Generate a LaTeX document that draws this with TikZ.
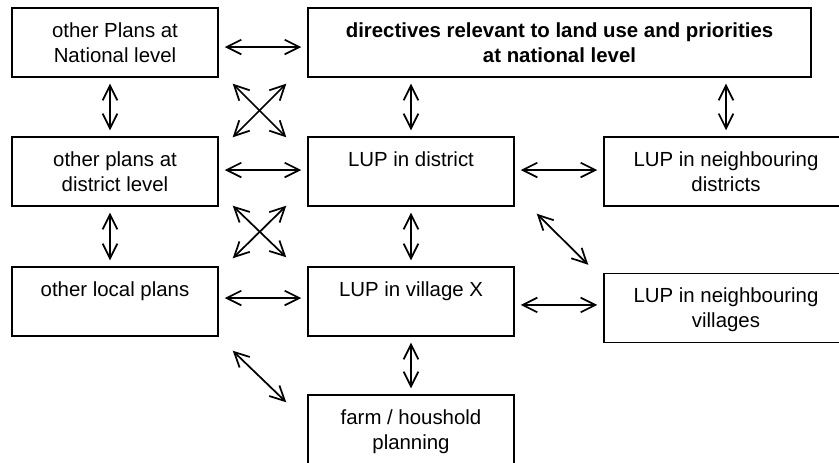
\documentclass[tikz,border=0pt]{standalone}
\usepackage{fontspec}
\setmainfont{Liberation Sans}
\usetikzlibrary{arrows.meta}

\tikzset{
    plan/.style={draw, line width=1.1pt, align=center, inner sep=0pt,
        text height=33pt, text depth=3.5pt,
        minimum height=51.75pt, font=\fontsize{15.3}{18.75}\selectfont},
    link/.style={{Straight Barb[length=11pt,width=11pt]}-{Straight Barb[length=11pt,width=11pt]},
        line width=1.3pt, shorten <=4.5pt, shorten >=4.5pt},
    cross/.style={{Straight Barb[length=11pt,width=11pt]}-{Straight Barb[length=11pt,width=11pt]},
        line width=1.3pt}
}

\begin{document}
\begin{tikzpicture}[x=0.75pt,y=-0.75pt]
                \path[use as bounding box, clip] (0,0) rectangle (839,463);

                \node[plan, minimum width=154.5pt] (nat) at (115,42.5) {other Plans at\\National level};
                \node[plan, minimum width=377.25pt, font=\fontsize{15.3}{18.75}\selectfont\bfseries] (dirs) at (559.5,42.5) {directives relevant to land use and priorities\\at national level};
                \node[plan, minimum width=154.5pt] (dist) at (115,171.5) {other plans at\\district level};
                \node[plan, minimum width=154.5pt] (lupd) at (411,171.5) {LUP in district\\~};
                \node[plan, minimum width=183pt] (nbd) at (726,171.5) {LUP in neighbouring\\districts};
                \node[plan, minimum width=154.5pt] (loc) at (115,301.5) {other local plans\\~};
                \node[plan, minimum width=154.5pt] (lupv) at (411,301.5) {LUP in village X\\~};
                \node[plan, minimum width=183pt] (nbv) at (726,308) {LUP in neighbouring\\villages};
                \node[plan, minimum width=154.5pt] (farm) at (411,429.5) {farm / houshold\\planning};

                \draw[link] ([yshift=-3.4pt]nat.east) to ([yshift=-3.4pt]dirs.west);
                \draw[link] ([yshift=1.1pt]dist.east) to ([yshift=1.1pt]lupd.west);
                \draw[link] ([yshift=2.6pt]loc.east) to ([yshift=2.6pt]lupv.west);
                \draw[link] ([yshift=1.1pt]lupd.east) to ([yshift=1.1pt]lupd.east -| nbd.west);
                \draw[link] ([yshift=-2.6pt]lupv.east) to ([yshift=-2.6pt]lupv.east -| nbv.west);

                \draw[link] ([xshift=-3.75pt]nat.south) to ([xshift=-3.75pt]dist.north);
                \draw[link] ([xshift=-3.75pt]dist.south) to ([xshift=-3.75pt]loc.north);
                \draw[link] (dirs.south -| lupd.north) to (lupd.north);
                \draw[link] (dirs.south -| nbd.north) to (nbd.north);
                \draw[link] (lupd.south) to (lupv.north);
                \draw[link] (lupv.south) to (farm.north);

                \draw[cross] ([shift={(14,6)}]nat.south east) to ([shift={(-21,1)}]lupd.north west);
                \draw[cross] ([shift={(-21,6)}]dirs.south west) to ([shift={(14,1)}]dist.north east);
                \draw[cross] ([shift={(14,-1)}]dist.south east) to ([shift={(-21,-9)}]lupv.north west);
                \draw[cross] ([shift={(-21,-1)}]lupd.south west) to ([shift={(14,-8)}]loc.north east);
                \draw[cross] ([shift={(22,7)}]lupd.south east) to ([shift={(-15,-8)}]nbv.north west);
                \draw[cross] ([shift={(14,14)}]loc.south east) to ([shift={(-21,8)}]farm.north west);
            \end{tikzpicture}
\end{document}
